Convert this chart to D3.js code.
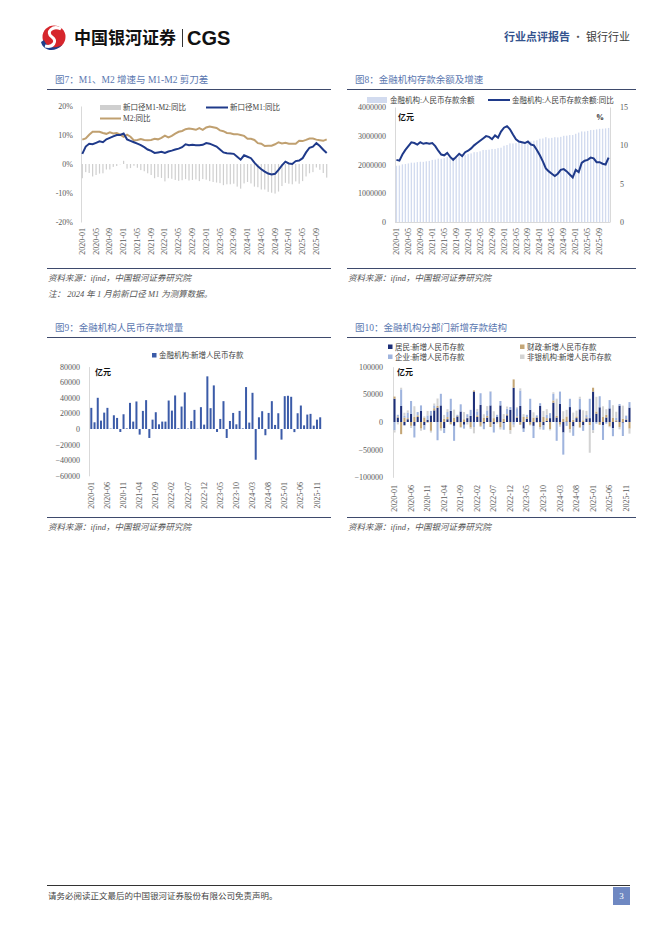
<!DOCTYPE html>
<html><head><meta charset="utf-8">
<script src="https://cdn.jsdelivr.net/npm/d3@7"></script>
<style>
html,body{margin:0;padding:0;background:#fff;}
svg{display:block;}
text{font-family:'Liberation Serif','Noto Sans CJK SC',serif;}
</style></head>
<body>
<svg id="page" width="662" height="936"></svg>
<script>
// ---------- DATA ----------
const months = [];
for (let yr = 2020; yr <= 2025; yr++) for (let m = 1; m <= 12; m++) months.push(yr + "-" + String(m).padStart(2, "0"));

const ticks4 = ["2020-01","2020-05","2020-09","2021-01","2021-05","2021-09","2022-01","2022-05","2022-09","2023-01","2023-05","2023-09","2024-01","2024-05","2024-09","2025-01","2025-05","2025-09"];
const ticks5 = ["2020-01","2020-06","2020-11","2021-04","2021-09","2022-02","2022-07","2022-12","2023-05","2023-10","2024-03","2024-08","2025-01","2025-06","2025-11"];

// Fig 7 (%)
const m1Yoy = [3.5,6.0,7.0,6.8,7.3,7.8,7.5,8.5,9.0,9.5,10.0,10.0,
 10.5,8.5,8.0,7.5,7.0,6.5,5.8,5.0,4.5,3.8,4.0,4.2,
 3.8,4.3,4.6,5.0,5.3,5.8,6.8,6.5,6.6,6.5,6.5,6.6,
 7.2,7.0,6.5,6.0,5.0,4.0,3.7,3.6,3.5,2.5,1.5,3.0,
 2.5,2.0,0.5,-0.8,-1.8,-2.6,-3.3,-3.6,-3.4,-2.0,-0.5,0.8,
 0.2,0.0,1.0,1.2,2.0,4.0,5.6,6.0,7.2,6.2,4.9,3.8];
const m2Yoy = [8.4,8.8,10.1,11.1,11.1,11.1,10.7,10.4,10.9,10.5,10.7,10.1,
 9.4,10.1,9.4,8.1,8.3,8.6,8.3,8.2,8.3,8.7,8.5,9.0,
 9.8,9.2,9.7,10.5,11.1,11.4,12.0,12.2,12.1,11.8,12.4,11.8,
 12.6,12.9,12.7,12.4,11.6,11.3,10.7,10.6,10.3,10.3,10.0,9.7,
 8.7,8.7,8.3,7.2,7.0,6.2,6.3,6.3,6.8,7.5,7.1,7.3,
 7.0,7.0,7.0,8.0,7.9,8.3,8.8,8.8,8.4,8.2,8.0,8.5];
const m1m2Gap = [-4.9,-2.8,-3.1,-4.3,-3.8,-3.3,-3.2,-1.9,-1.9,-1.0,-0.7,-0.1,
 1.1,-1.6,-1.4,-0.6,-1.3,-2.1,-2.5,-3.2,-3.8,-4.9,-4.5,-4.8,
 -6.0,-4.9,-5.1,-5.5,-5.8,-5.6,-5.2,-5.7,-5.5,-5.3,-5.9,-5.2,
 -5.4,-5.9,-6.2,-6.4,-6.6,-7.3,-7.0,-7.0,-6.8,-7.8,-8.5,-6.7,
 -6.2,-6.7,-7.8,-8.0,-8.8,-8.8,-9.6,-9.9,-10.2,-9.5,-7.6,-6.5,
 -6.8,-7.0,-6.0,-6.8,-5.9,-4.3,-3.2,-2.8,-1.2,-2.0,-3.1,-4.7];

// Fig 8
const depositBal = [1956000,1965000,2005000,2016000,2037000,2064000,2064000,2082000,2096000,2092000,2111000,2126000,
 2160000,2169000,2204000,2197000,2220000,2257000,2246000,2258000,2279000,2285000,2295000,2326000,
 2362000,2386000,2429000,2430000,2459000,2506000,2506000,2516000,2541000,2541000,2569000,2584000,
 2652000,2679000,2735000,2731000,2744000,2780000,2768000,2779000,2799000,2805000,2828000,2843000,
 2897000,2905000,2951000,2912000,2927000,2950000,2942000,2962000,2998000,3003000,3024000,3025000,
 3068000,3110000,3151000,3147000,3168000,3198000,3203000,3221000,3241000,3245000,3257000,3272000];
const depositYoy = [8.1,8.0,8.8,9.4,9.9,10.4,10.3,10.1,10.4,10.2,10.3,10.2,
 10.3,9.9,9.3,8.8,8.7,9.0,8.5,8.1,8.5,8.9,8.6,9.1,
 9.3,9.6,10.0,10.3,10.6,10.9,11.2,11.1,10.8,11.3,11.0,11.8,
 12.3,12.5,12.1,11.4,10.8,10.5,10.4,10.3,10.5,10.1,10.0,9.4,
 8.7,7.9,7.0,6.6,6.3,6.0,6.3,6.8,6.9,6.6,6.2,5.8,
 6.8,6.5,7.7,8.0,8.1,8.4,8.3,7.8,7.8,7.6,7.5,8.4];

// Fig 9
const newDeposit = [27100,8600,40000,10750,21000,27100,500,17600,14200,-3800,18900,800,
 33500,9500,35300,-7200,23200,37000,-11500,12000,21500,6000,9500,9500,
 36500,23600,43000,1000,28800,46900,500,10300,24500,300,28000,5600,
 67500,26700,55900,-3800,12900,35700,-11500,10300,20600,6000,23200,800,
 53750,8200,46400,-39400,15000,22800,-8000,20600,35700,5200,20200,-13600,
 42100,42600,41300,-4000,20200,30100,4700,18500,19400,4300,12000,15000];

// Fig 10
const household = [42000,8000,29000,-6000,5000,15000,-7000,9000,20000,-6000,4000,12000,
 21000,26000,30000,-11000,5000,20000,-7000,10000,19000,-5000,7000,11000,
 55000,9000,31000,-3000,8000,30000,-4000,9000,30000,-2000,12000,22000,
 62000,8000,29000,-12000,6000,22000,-7000,8000,29000,-6000,2000,7000,
 35000,8000,33000,-19000,1000,27000,-8000,7000,23000,-6000,6500,7000,
 55000,15000,26600,-5400,8100,24600,-11100,1100,29600,-1300,4100,26000];
const fiscal = [4000,2000,-22000,8000,2000,-7000,9000,3000,-12000,8000,-1000,-16000,
 4000,3000,-12000,6000,4000,-4000,8000,1000,-9000,5000,1000,-10000,
 2000,3000,-7000,8000,3000,-9000,7000,-1000,-10000,6000,2000,-15000,
 15000,2000,-5000,9000,3000,-5000,8000,1000,-9000,9000,5000,-13000,
 4000,3000,-5000,6000,9000,-13000,4000,3000,-10000,3000,2000,-5600,
 7000,4000,-5000,9000,5000,-8000,8000,2000,-9000,6000,1000,-12000];
const corporate = [-15000,3000,30000,3000,10000,23000,-21000,6000,10000,-8000,8000,8000,
 5000,-33000,21000,-9000,9000,22000,-27000,2000,13000,-7000,6000,11000,
 -9000,7000,21000,-10000,10000,25000,-15000,4000,8000,-12000,10000,5000,
 -5000,15000,28000,-6000,4000,20000,-22000,3000,5000,-8000,6000,9000,
 12000,-34000,22000,-40000,-7000,15000,-17000,0,19000,-10000,4000,35000,
 -15000,-3000,20000,-27000,-3000,15000,-14600,5000,3000,-24000,6000,10000];
const nonbank = [-4000,-4400,3000,5750,4000,-3900,19500,-400,-3800,2200,7900,-3200,
 3500,13500,-3700,6800,5200,-1000,14500,-1000,-1500,13000,-4500,-2500,
 -11500,4600,-2000,6000,7800,900,12500,-1700,-3500,8300,4000,-6400,
 -4500,1700,3900,5200,-100,-1300,9500,-1700,-4400,11000,10200,-2200,
 2750,31200,-3600,13600,12000,-6200,13000,10600,3700,18200,7700,-50000,
 -4900,26600,-300,19400,10100,-1500,22400,10400,-4200,23600,900,-9000];

// ---------- STYLE ----------
const C = {
  navy: "#1f3a8a", tan: "#c0a070", gray: "#cfcfcf", lav: "#d2dbef",
  bar9: "#3b5ba8", hh: "#1d2f78", fisc: "#c4a676", corp: "#9fb4de", nb: "#d3d3d3",
  title: "#5a77b0", rule: "#3e4a6c", axisTxt: "#595959", axisLine: "#d9d9d9"
};
const svg = d3.select("#page");

// ---------- HEADER ----------
const logo = svg.append("g");
logo.append("circle").attr("cx", 54).attr("cy", 37).attr("r", 11.5).attr("fill", "#d6262c");
logo.append("path").attr("d", "M41,42 C43,51 55,53 62,45 C55,49 47,48 44,40 Z").attr("fill", "#1f3e8c");
logo.append("path").attr("d", "M61,29 C53,25 45,32 52,37 C58,41 53,48 45,46").attr("stroke", "#fff").attr("stroke-width", 3).attr("fill", "none");
svg.append("text").attr("x", 74).attr("y", 44).attr("font-size", 17).attr("font-weight", 700)
  .style("font-family", "'Noto Sans CJK SC',sans-serif").attr("fill", "#111").text("中国银河证券");
svg.append("line").attr("x1", 182.5).attr("x2", 182.5).attr("y1", 29).attr("y2", 47).attr("stroke", "#333").attr("stroke-width", 1);
svg.append("text").attr("x", 187).attr("y", 45).attr("font-size", 20).attr("font-weight", 700)
  .style("font-family", "'Liberation Sans',Arial,sans-serif").attr("fill", "#111").text("CGS");
const hr = svg.append("text").attr("x", 630).attr("y", 41).attr("text-anchor", "end").attr("font-size", 11)
  .style("font-family", "'Noto Sans CJK SC',sans-serif");
hr.append("tspan").attr("fill", "#34538e").attr("font-weight", 700).text("行业点评报告");
hr.append("tspan").attr("fill", "#555").text(" · ");
hr.append("tspan").attr("fill", "#3a3a3a").text("银行行业");

// ---------- PANEL FRAMES ----------
function frame(x0, x1, titleY, ruleY, bottomY, title, sources) {
  svg.append("text").attr("x", x0 + 8).attr("y", titleY).attr("font-size", 9.5).attr("fill", C.title).text(title);
  svg.append("line").attr("x1", x0).attr("x2", x1).attr("y1", ruleY).attr("y2", ruleY).attr("stroke", C.rule).attr("stroke-width", 1);
  svg.append("line").attr("x1", x0).attr("x2", x1).attr("y1", bottomY).attr("y2", bottomY).attr("stroke", C.rule).attr("stroke-width", 1);
  sources.forEach((s, i) => {
    svg.append("text").attr("x", x0 + 1).attr("y", bottomY + 12 + i * 16).attr("font-size", 8.5)
      .attr("font-style", "italic").attr("fill", "#555").text(s);
  });
}
frame(47, 331, 83, 89.5, 268.5, "图7：M1、M2 增速与 M1-M2 剪刀差", ["资料来源：ifind，中国银河证券研究院", "注：  2024 年 1 月前新口径 M1 为测算数据。"]);
frame(347, 636, 83, 89.5, 268.5, "图8：金融机构存款余额及增速", ["资料来源：ifind，中国银河证券研究院"]);
frame(47, 331, 331, 337.5, 517.5, "图9：金融机构人民币存款增量", ["资料来源：ifind，中国银河证券研究院"]);
frame(347, 636, 331, 337.5, 517.5, "图10：金融机构分部门新增存款结构", ["资料来源：ifind，中国银河证券研究院"]);

function styleAxis(g, fs) {
  g.selectAll("text").attr("fill", C.axisTxt).attr("font-size", fs || 8).style("font-family", "'Liberation Serif',serif");
  g.select(".domain").attr("stroke", C.axisLine);
}
function xLabels(x, ticks, yTop) {
  const g = svg.append("g").attr("transform", `translate(0,${yTop})`)
    .call(d3.axisBottom(x).tickValues(ticks).tickSize(0).tickPadding(0));
  g.select(".domain").remove();
  g.selectAll(".tick text").attr("x", 0).attr("y", 0).attr("dy", "0.32em")
    .attr("transform", "rotate(-90)").attr("text-anchor", "end")
    .attr("fill", C.axisTxt).attr("font-size", 8).style("font-family", "'Liberation Serif',serif");
}
function legendText(x, y, t, fs) {
  svg.append("text").attr("x", x).attr("y", y).attr("dy", "0.35em").attr("font-size", fs || 7.5).attr("fill", "#404040").text(t);
}

// ---------- FIG 7 ----------
{
  const x = d3.scaleBand().domain(months).range([81, 328]).paddingInner(0.65).paddingOuter(0.2);
  const y = d3.scaleLinear().domain([-20, 20]).range([222, 106]);
  const cx = d => x(d) + x.bandwidth() / 2;
  const ax = svg.append("g").attr("transform", "translate(81,0)")
    .call(d3.axisLeft(y).tickValues([-20, -10, 0, 10, 20]).tickFormat(d => d + "%").tickSize(0).tickPadding(8));
  styleAxis(ax);
  svg.append("g").selectAll("rect").data(months).join("rect")
    .attr("x", d => x(d)).attr("width", x.bandwidth())
    .attr("y", (d, i) => Math.min(y(m1m2Gap[i]), y(0)))
    .attr("height", (d, i) => Math.abs(y(m1m2Gap[i]) - y(0)))
    .attr("fill", C.gray);
  const line = arr => d3.line().x((d, i) => cx(months[i])).y(d => y(d))(arr);
  svg.append("path").attr("d", line(m2Yoy)).attr("fill", "none").attr("stroke", C.tan).attr("stroke-width", 2);
  svg.append("path").attr("d", line(m1Yoy)).attr("fill", "none").attr("stroke", C.navy).attr("stroke-width", 2);
  xLabels(x, ticks4, 228);
  svg.append("rect").attr("x", 100).attr("y", 105).attr("width", 21).attr("height", 5).attr("fill", C.gray);
  legendText(123, 107.5, "新口径M1-M2:同比");
  svg.append("line").attr("x1", 206).attr("x2", 228).attr("y1", 107.5).attr("y2", 107.5).attr("stroke", C.navy).attr("stroke-width", 2);
  legendText(230, 107.5, "新口径M1:同比");
  svg.append("line").attr("x1", 100).attr("x2", 121).attr("y1", 118.5).attr("y2", 118.5).attr("stroke", C.tan).attr("stroke-width", 2);
  legendText(123, 118.5, "M2:同比");
}

// ---------- FIG 8 ----------
{
  const x = d3.scaleBand().domain(months).range([395, 610]).paddingInner(0.55).paddingOuter(0.25);
  const yL = d3.scaleLinear().domain([0, 4000000]).range([222, 107]);
  const yR = d3.scaleLinear().domain([0, 15]).range([222, 107]);
  const cx = d => x(d) + x.bandwidth() / 2;
  const axL = svg.append("g").attr("transform", "translate(395,0)")
    .call(d3.axisLeft(yL).tickValues([0, 1000000, 2000000, 3000000, 4000000]).tickFormat(d3.format("d")).tickSize(0).tickPadding(9));
  styleAxis(axL);
  const axR = svg.append("g").attr("transform", "translate(610,0)")
    .call(d3.axisRight(yR).tickValues([0, 5, 10, 15]).tickSize(0).tickPadding(10));
  styleAxis(axR);
  svg.append("line").attr("x1", 395).attr("x2", 610).attr("y1", 222.5).attr("y2", 222.5).attr("stroke", C.axisLine);
  svg.append("g").selectAll("rect").data(months).join("rect")
    .attr("x", d => x(d)).attr("width", x.bandwidth())
    .attr("y", (d, i) => yL(depositBal[i])).attr("height", (d, i) => yL(0) - yL(depositBal[i]))
    .attr("fill", C.lav);
  svg.append("path").attr("d", d3.line().x((d, i) => cx(months[i])).y(d => yR(d))(depositYoy))
    .attr("fill", "none").attr("stroke", C.navy).attr("stroke-width", 2);
  xLabels(x, ticks4, 228);
  svg.append("text").attr("x", 398).attr("y", 120).attr("font-size", 8).attr("font-weight", 700).attr("fill", "#111")
    .style("font-family", "'Noto Sans CJK SC',sans-serif").text("亿元");
  svg.append("text").attr("x", 596).attr("y", 120).attr("font-size", 8).attr("font-weight", 700).attr("fill", "#111").text("%");
  svg.append("rect").attr("x", 367).attr("y", 97).attr("width", 20).attr("height", 6).attr("fill", C.lav);
  legendText(390, 100, "金融机构:人民币存款余额");
  svg.append("line").attr("x1", 488).attr("x2", 510).attr("y1", 100).attr("y2", 100).attr("stroke", C.navy).attr("stroke-width", 2);
  legendText(512, 100, "金融机构:人民币存款余额:同比");
}

// ---------- FIG 9 ----------
{
  const x = d3.scaleBand().domain(months).range([89.5, 322]).paddingInner(0.38).paddingOuter(0.25);
  const y = d3.scaleLinear().domain([-60000, 80000]).range([475.8, 366.6]);
  const ax = svg.append("g").attr("transform", "translate(89,0)")
    .call(d3.axisLeft(y).tickValues(d3.range(-60000, 80001, 20000)).tickFormat(d3.format("d")).tickSize(0).tickPadding(9));
  styleAxis(ax);
  svg.append("g").selectAll("rect").data(months).join("rect")
    .attr("x", d => x(d)).attr("width", x.bandwidth())
    .attr("y", (d, i) => Math.min(y(newDeposit[i]), y(0)))
    .attr("height", (d, i) => Math.abs(y(newDeposit[i]) - y(0)))
    .attr("fill", C.bar9);
  xLabels(x, ticks5, 482);
  svg.append("text").attr("x", 95).attr("y", 375).attr("font-size", 8).attr("font-weight", 700).attr("fill", "#111")
    .style("font-family", "'Noto Sans CJK SC',sans-serif").text("亿元");
  svg.append("rect").attr("x", 152).attr("y", 353).attr("width", 4.5).attr("height", 4.5).attr("fill", C.bar9);
  legendText(159, 355.5, "金融机构:新增人民币存款");
}

// ---------- FIG 10 ----------
{
  const x = d3.scaleBand().domain(months).range([393, 631]).paddingInner(0.38).paddingOuter(0.15);
  const y = d3.scaleLinear().domain([-100000, 100000]).range([477.3, 366.7]);
  const ax = svg.append("g").attr("transform", "translate(393,0)")
    .call(d3.axisLeft(y).tickValues([-100000, -50000, 0, 50000, 100000]).tickFormat(d3.format("d")).tickSize(0).tickPadding(10));
  styleAxis(ax);
  const keys = ["hh", "fisc", "corp", "nb"];
  const cols = { hh: C.hh, fisc: C.fisc, corp: C.corp, nb: C.nb };
  const rows = months.map((m, i) => ({ m, hh: household[i], fisc: fiscal[i], corp: corporate[i], nb: nonbank[i] }));
  const stack = d3.stack().keys(keys).offset(d3.stackOffsetDiverging)(rows);
  svg.append("g").selectAll("g").data(stack).join("g").attr("fill", s => cols[s.key])
    .selectAll("rect").data(s => s).join("rect")
    .attr("x", d => x(d.data.m)).attr("width", x.bandwidth())
    .attr("y", d => y(Math.max(d[0], d[1]))).attr("height", d => Math.abs(y(d[0]) - y(d[1])));
  xLabels(x, ticks5, 485);
  svg.append("text").attr("x", 397).attr("y", 375).attr("font-size", 8).attr("font-weight", 700).attr("fill", "#111")
    .style("font-family", "'Noto Sans CJK SC',sans-serif").text("亿元");
  const lg = [["hh", 388, 347, "居民:新增人民币存款"], ["fisc", 520, 347, "财政:新增人民币存款"],
              ["corp", 388, 357, "企业:新增人民币存款"], ["nb", 520, 357, "非银机构:新增人民币存款"]];
  lg.forEach(([k, lx, ly, t]) => {
    svg.append("rect").attr("x", lx).attr("y", ly - 2.5).attr("width", 4.5).attr("height", 4.5).attr("fill", cols[k]);
    legendText(lx + 7, ly, t);
  });
}

// ---------- FOOTER ----------
svg.append("line").attr("x1", 47).attr("x2", 630).attr("y1", 885.5).attr("y2", 885.5).attr("stroke", "#333").attr("stroke-width", 1);
svg.append("text").attr("x", 48).attr("y", 899).attr("font-size", 8.5).attr("fill", "#444")
  .style("font-family", "'Noto Sans CJK SC',sans-serif").text("请务必阅读正文最后的中国银河证券股份有限公司免责声明。");
svg.append("rect").attr("x", 613).attr("y", 887).attr("width", 17).attr("height", 18).attr("fill", "#6f88c2");
svg.append("text").attr("x", 621.5).attr("y", 899).attr("text-anchor", "middle").attr("font-size", 9).attr("fill", "#fff").text("3");
</script>
</body></html>
